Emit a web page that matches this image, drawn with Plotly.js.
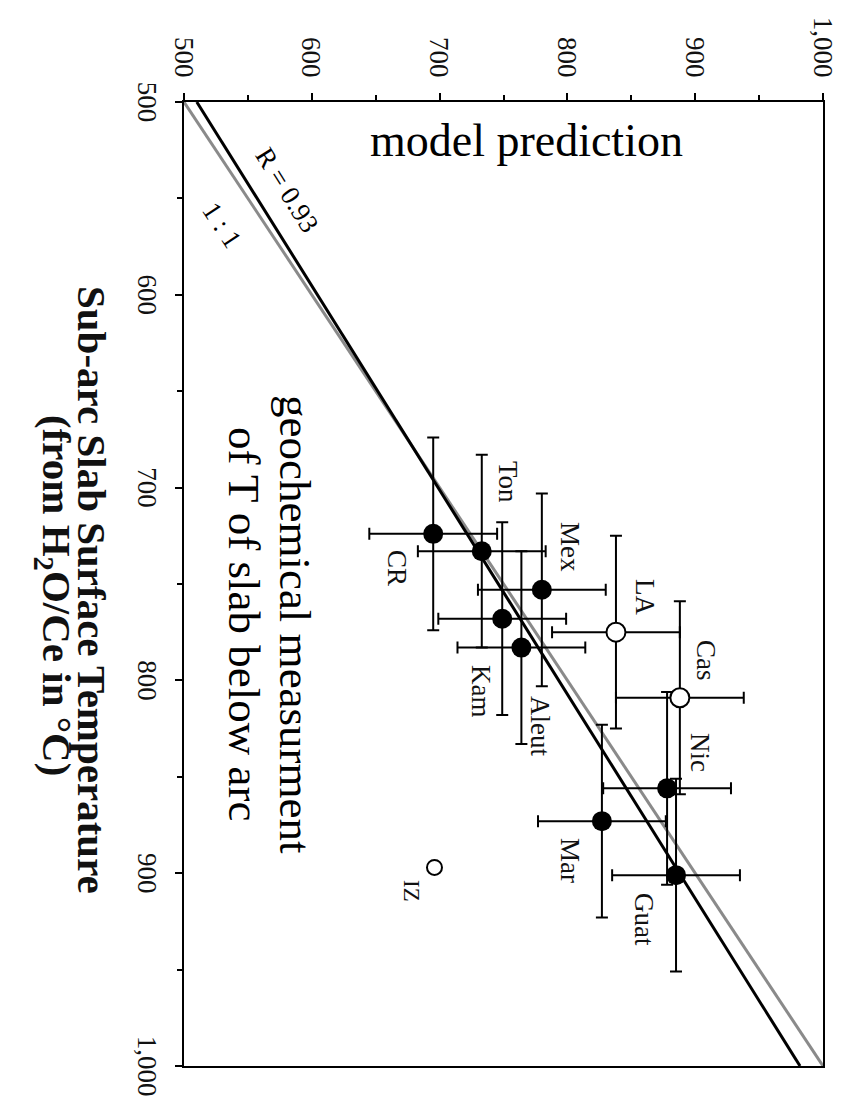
<!DOCTYPE html>
<html>
<head>
<meta charset="utf-8">
<script src="https://cdn.plot.ly/plotly-3.0.1.min.js"></script>
<style>
  html, body { margin: 0; padding: 0; background: #fff; overflow: hidden; width: 848px; height: 1104px; }
  #chart { position: absolute; left: 0; top: 0; width: 1104px; height: 848px;
           transform-origin: 0 0; transform: translate(848px, 0) rotate(90deg); }
</style>
</head>
<body>
<div id="chart"></div>
<script>
// ---- data ----
const filledNames  = ['CR', 'Ton', 'Mex', 'Kam', 'Aleut', 'Nic', 'Mar', 'Guat'];
const filledTemp   = [724, 733, 753, 768, 783, 856, 873, 901];   // sub-arc slab T from H2O/Ce (°C)
const filledModel  = [695, 733, 780, 749, 764, 878, 827, 885];   // model prediction (°C)
const filledErrT   = [50, 50, 50, 50, 50, 50, 50, 50];
const filledErrM   = [50, 50, 50, 50, 50, 50, 50, 50];

const openNames    = ['LA', 'Cas'];
const openTemp     = [775, 809];
const openModel    = [838, 888];
const openErrT     = [50, 50];
const openErrM     = [50, 50];

const izNames      = ['IZ'];
const izTemp       = [897];
const izModel      = [696];

const oneToOneT    = [500, 1000];
const oneToOneM    = [500, 1000];
const regressT     = [500, 1000];
const regressM     = [510, 982];

const tickValues   = [500, 600, 700, 800, 900, 1000];

// ---- styling / layout ----
const serif = 'Liberation Serif, Times New Roman, serif';
const ink = '#111111';

// label offsets (px) relative to each point, in the chart's own frame
const labelOffsets = {
  CR: [34, -36], Ton: [-69, 26], Mex: [-43, 28], Kam: [72, -21], Aleut: [78, 19],
  Nic: [-36, 33], Mar: [39, -32], Guat: [44, -32], LA: [-35, 29], Cas: [-37, 26], IZ: [24, -23]
};

const traces = [
  { x: oneToOneT, y: oneToOneM, mode: 'lines', line: { color: '#8a8a8a', width: 3 }, hoverinfo: 'skip' },
  { x: regressT, y: regressM, mode: 'lines', line: { color: '#000', width: 3 }, hoverinfo: 'skip' },
  { x: filledTemp, y: filledModel, mode: 'markers', text: filledNames,
    marker: { size: 20, color: '#000' },
    error_x: { type: 'data', array: filledErrT, color: '#000', thickness: 2, width: 6 },
    error_y: { type: 'data', array: filledErrM, color: '#000', thickness: 2, width: 6 } },
  { x: openTemp, y: openModel, mode: 'markers', text: openNames,
    marker: { size: 19, color: '#fff', line: { color: '#000', width: 2 } },
    error_x: { type: 'data', array: openErrT, color: '#000', thickness: 2, width: 6 },
    error_y: { type: 'data', array: openErrM, color: '#000', thickness: 2, width: 6 } },
  { x: izTemp, y: izModel, mode: 'markers', text: izNames,
    marker: { size: 15, color: '#fff', line: { color: '#000', width: 2 } } }
];

const annotations = [];
function addLabels(names, xs, ys, size) {
  names.forEach((n, i) => {
    const off = labelOffsets[n];
    annotations.push({ x: xs[i], y: ys[i], xref: 'x', yref: 'y', text: n, showarrow: false,
      xshift: off[0], yshift: off[1], font: { family: serif, size: size, color: ink } });
  });
}
addLabels(filledNames, filledTemp, filledModel, 27);
addLabels(openNames, openTemp, openModel, 27);
addLabels(izNames, izTemp, izModel, 23);

annotations.push(
  { x: 545.6, y: 580.6, xref: 'x', yref: 'y', text: 'R = 0.93', textangle: -32, showarrow: false,
    font: { family: serif, size: 27, color: '#000' } },
  { x: 563.8, y: 529.7, xref: 'x', yref: 'y', text: '1 : 1', textangle: -33.5, showarrow: false,
    font: { family: serif, size: 27, color: '#000' } },
  { x: 520, y: 768, xref: 'x', yref: 'y', text: 'model prediction', textangle: -90, showarrow: false,
    font: { family: serif, size: 46, color: '#000' } },
  { x: 771, y: 587, xref: 'x', yref: 'y', text: 'geochemical measurment', showarrow: false,
    font: { family: serif, size: 45, color: '#000' } },
  { x: 771, y: 547, xref: 'x', yref: 'y', text: 'of T of slab below arc', showarrow: false,
    font: { family: serif, size: 45, color: '#000' } },
  { x: 753, y: 0, xref: 'x', yref: 'paper', yanchor: 'middle', yshift: -92, showarrow: false,
    text: '<b>Sub-arc Slab Surface Temperature</b>', font: { family: serif, size: 41, color: ink } },
  { x: 756, y: 0, xref: 'x', yref: 'paper', yanchor: 'middle', yshift: -130, showarrow: false,
    text: '<b>(from H<sub>2</sub>O/Ce in °C)</b>', font: { family: serif, size: 41, color: ink } }
);

const axisCommon = {
  range: [500, 1000], tickmode: 'array', tickvals: tickValues, tickformat: ',',
  ticks: 'outside', ticklen: 7, tickwidth: 2, tickcolor: '#000',
  minor: { dtick: 50, ticks: 'outside', ticklen: 5, tickwidth: 2, tickcolor: '#000' },
  showline: true, linewidth: 2, linecolor: '#000', mirror: true,
  showgrid: false, zeroline: false,
  tickfont: { family: serif, size: 27, color: ink }
};

const layout = {
  width: 1104, height: 848,
  margin: { l: 102, r: 38, t: 25, b: 184 },
  paper_bgcolor: '#fff', plot_bgcolor: '#fff',
  showlegend: false,
  xaxis: Object.assign({}, axisCommon, { ticklabelstandoff: 5 }),
  yaxis: Object.assign({}, axisCommon, { ticklabelstandoff: 10 }),
  annotations: annotations
};

Plotly.newPlot('chart', traces, layout, { displayModeBar: false, staticPlot: true });
</script>
</body>
</html>
